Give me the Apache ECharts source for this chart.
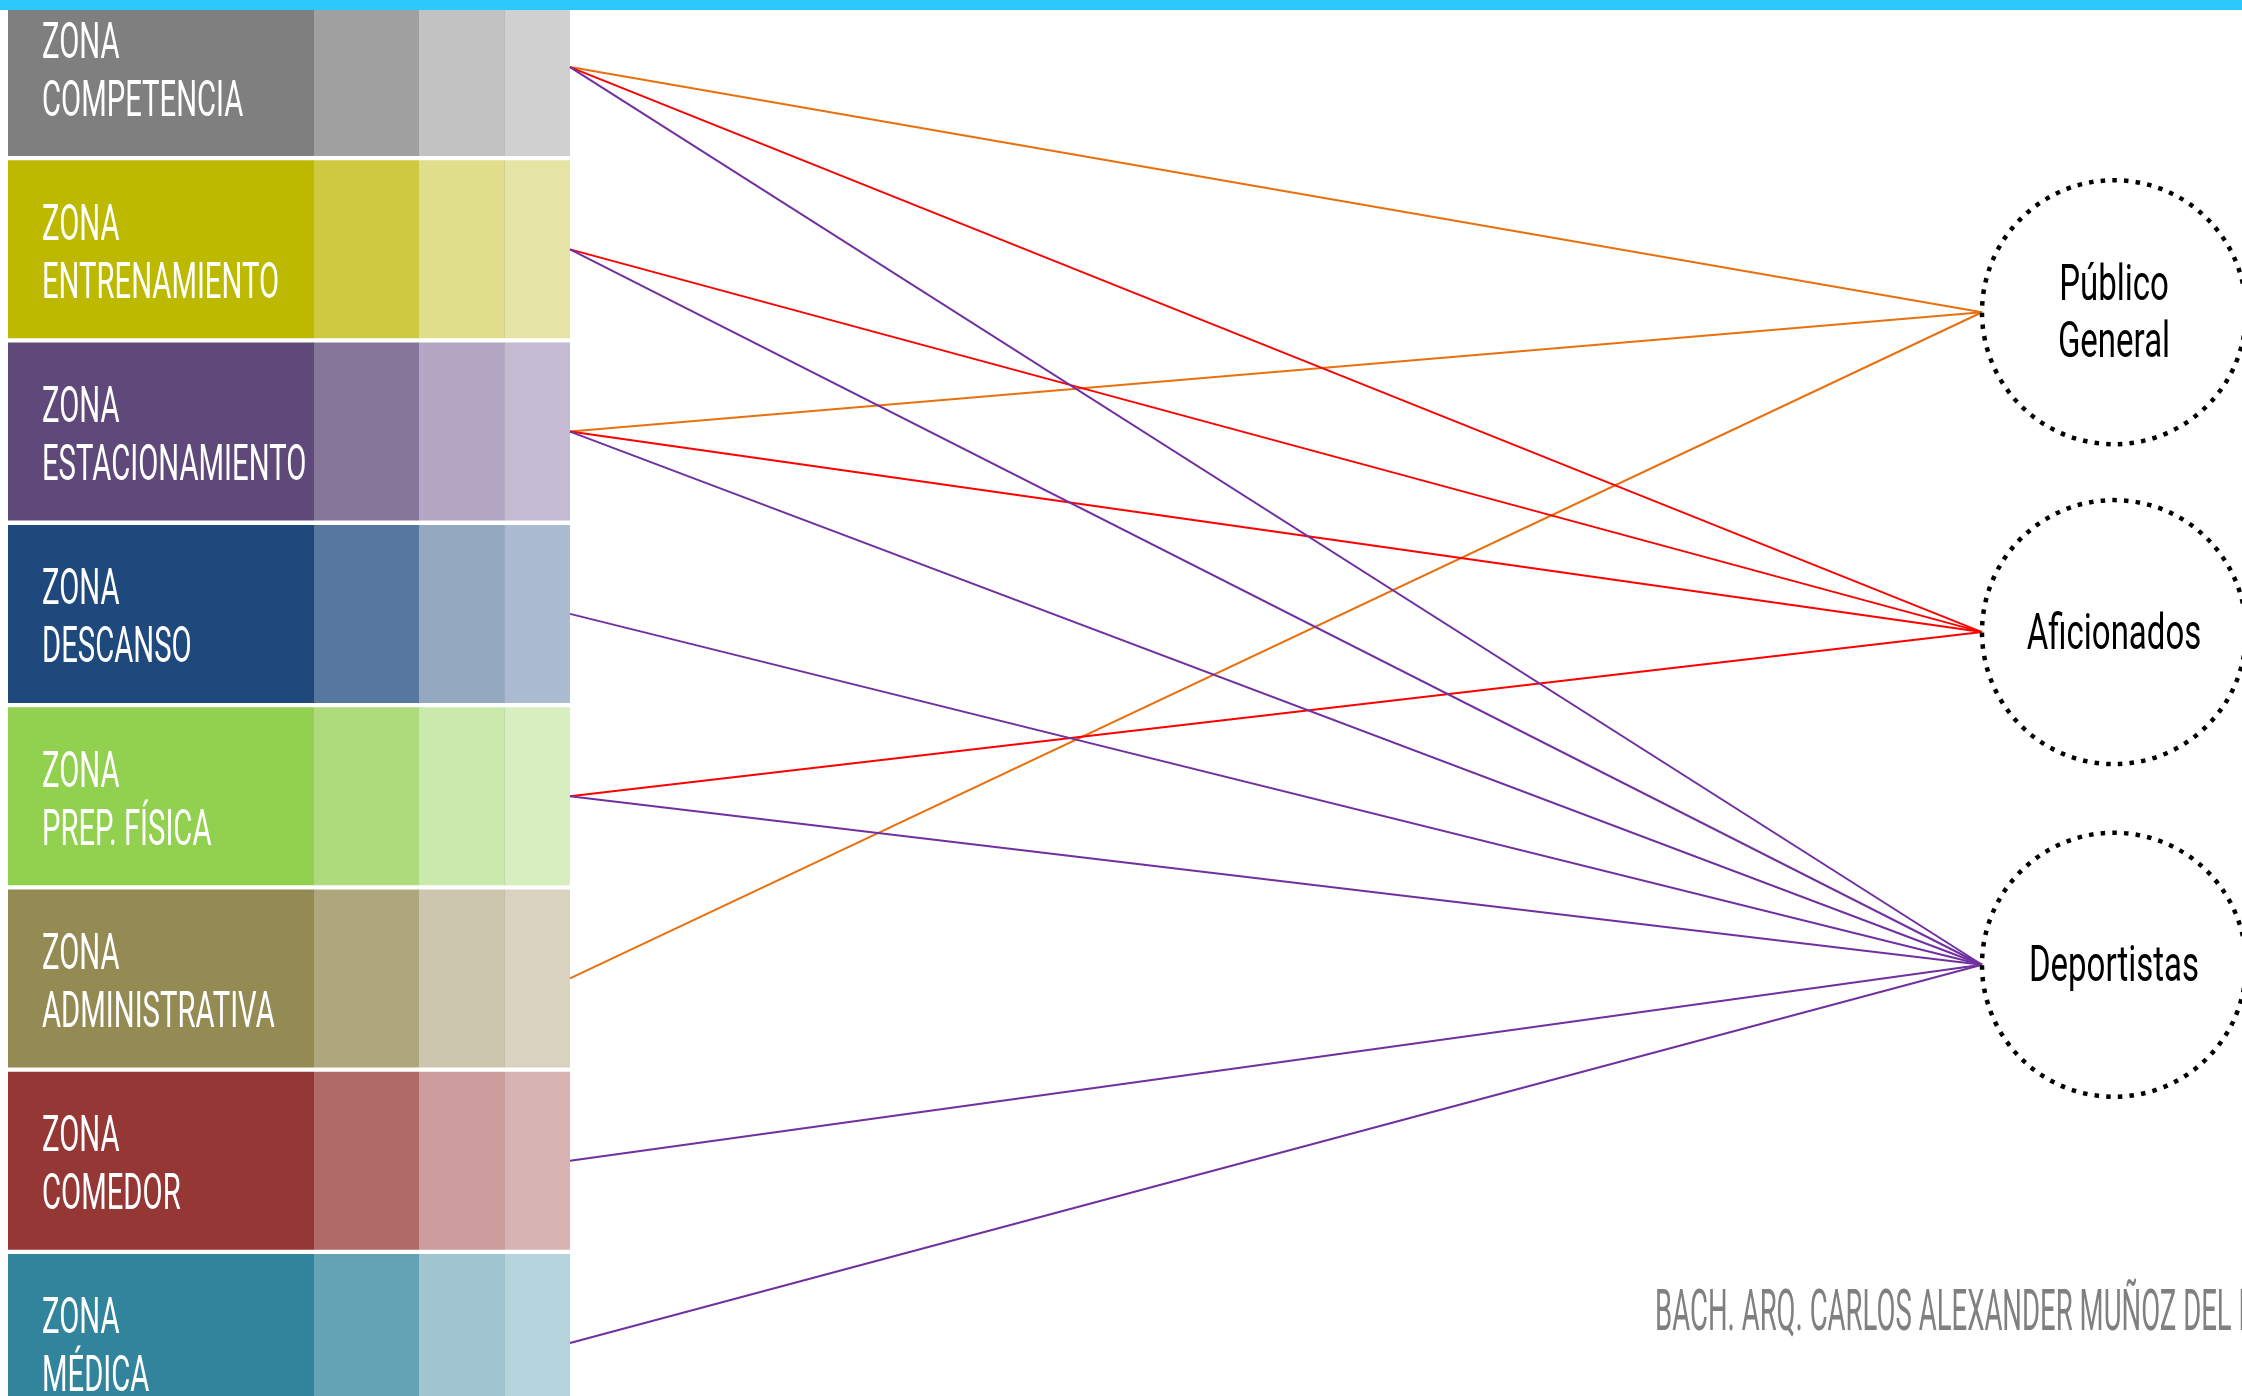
<!DOCTYPE html>
<html>
<head>
<meta charset="utf-8">
<script src="https://cdn.jsdelivr.net/npm/echarts@6/dist/echarts.min.js"></script>
<style>
html,body{margin:0;padding:0;background:#fff;overflow:hidden;}
#chart{width:2242px;height:1396px;}
</style>
</head>
<body>
<div id="chart"></div>
<script>
// ---- data ----
const zonePrefix = 'ZONA';
const zones = ['COMPETENCIA', 'ENTRENAMIENTO', 'ESTACIONAMIENTO', 'DESCANSO', 'PREP. FÍSICA', 'ADMINISTRATIVA', 'COMEDOR', 'MÉDICA'];
const audiences = ['Público\nGeneral', 'Aficionados', 'Deportistas'];
// zone indices linked to each audience
const publicoLinks = [0, 2, 5];
const aficionadosLinks = [0, 1, 2, 4];
const deportistasLinks = [0, 1, 2, 3, 4, 6, 7];
const audienceLinks = [publicoLinks, aficionadosLinks, deportistasLinks];
const footerText = 'BACH. ARQ. CARLOS ALEXANDER MUÑOZ DEL RÍO';

// ---- styles / layout ----
const zonePalette = [
  ['#7F7F7F', '#A0A0A0', '#C2C2C2', '#D0D0D0'],
  ['#BDB900', '#CEC941', '#E0DE8A', '#E6E4A5'],
  ['#5F497A', '#85769A', '#B3A7C4', '#C4BBD2'],
  ['#1F497D', '#56789E', '#94A8C0', '#ABBBD2'],
  ['#92D050', '#AEDC7C', '#CAE9AC', '#D7EFBF'],
  ['#948A54', '#AEA77E', '#CCC6AE', '#D8D2BF'],
  ['#953735', '#B06A68', '#CC9D9C', '#D7B4B3'],
  ['#31849B', '#64A3B4', '#A0C5D0', '#B5D3DC']
];
const linkColors = ['#E8700E', '#FF0000', '#7030A0'];
const COLS = [8, 314, 419, 504, 570];
const AUD_X = 2114;
const AUD_R = 132;
const AUD_ROWS = [1.345, 3.10, 4.925];
const FONT = 'Roboto, "Liberation Sans", sans-serif';

const linkData = [];
audienceLinks.forEach((list, j) => {
  list.forEach(zi => {
    linkData.push({
      coords: [[COLS[4], zi], [AUD_X - AUD_R, AUD_ROWS[j]]],
      lineStyle: { color: linkColors[j] }
    });
  });
});

const chart = echarts.init(document.getElementById('chart'));
chart.setOption({
  animation: false,
  backgroundColor: '#ffffff',
  grid: { left: 0, right: 0, top: 0, bottom: 0 },
  xAxis: { type: 'value', min: 0, max: 2242, show: false },
  yAxis: { type: 'value', min: -0.368, max: 7.291, inverse: true, show: false },
  series: [
    {
      type: 'custom',
      name: 'zonas',
      clip: false,
      silent: true,
      data: zones.map((z, i) => [0, i]),
      encode: { x: 0, y: 1 },
      renderItem: function (params, api) {
        const i = api.value(1);
        const cy = api.coord([0, i])[1];
        const top = cy - 89, h = 178;
        const pal = zonePalette[i];
        const children = [];
        for (let k = 0; k < 4; k++) {
          const x0 = api.coord([COLS[k], i])[0];
          const x1 = api.coord([COLS[k + 1], i])[0];
          children.push({ type: 'rect', shape: { x: x0, y: top, width: x1 - x0, height: h }, style: { fill: pal[k] } });
        }
        const xs = api.coord([COLS[3], i])[0];
        children.push({ type: 'rect', shape: { x: xs, y: top, width: 1, height: h }, style: { fill: 'rgba(0,0,0,0.09)' } });
        children.push({
          type: 'text', x: 42, y: cy + 7, scaleX: 0.585,
          style: {
            text: zonePrefix + '\n' + zones[i],
            fill: '#ffffff', font: '50px ' + FONT, lineHeight: 58,
            align: 'left', verticalAlign: 'middle'
          }
        });
        return { type: 'group', children: children };
      },
      z: 2
    },
    {
      type: 'lines',
      coordinateSystem: 'cartesian2d',
      silent: true,
      polyline: false,
      lineStyle: { width: 2, opacity: 1, curveness: 0 },
      data: linkData,
      z: 3
    },
    {
      type: 'custom',
      name: 'usuarios',
      clip: false,
      silent: true,
      data: audiences.map((a, i) => [AUD_X, AUD_ROWS[i]]),
      encode: { x: 0, y: 1 },
      renderItem: function (params, api) {
        const p = api.coord([api.value(0), api.value(1)]);
        return {
          type: 'group',
          children: [
            { type: 'circle', shape: { cx: p[0], cy: p[1], r: AUD_R },
              style: { fill: 'rgba(255,255,255,0)', stroke: '#000', lineWidth: 4.5, lineDash: [4.5, 7.2] } },
            { type: 'text', x: p[0], y: p[1] + 4, scaleX: 0.66,
              style: { text: audiences[params.dataIndex], fill: '#000', font: '50px ' + FONT,
                       lineHeight: 57, align: 'center', verticalAlign: 'middle' } }
          ]
        };
      },
      z: 4
    }
  ],
  graphic: [
    { type: 'rect', x: 0, y: 0, shape: { width: 2242, height: 10 }, style: { fill: '#2BC8FE' }, z: 100 },
    { type: 'text', x: 1655, y: 1315, scaleX: 0.475,
      style: { text: footerText, fill: '#808080', font: '58px ' + FONT, verticalAlign: 'middle', align: 'left' }, z: 100 }
  ]
});
</script>
</body>
</html>
